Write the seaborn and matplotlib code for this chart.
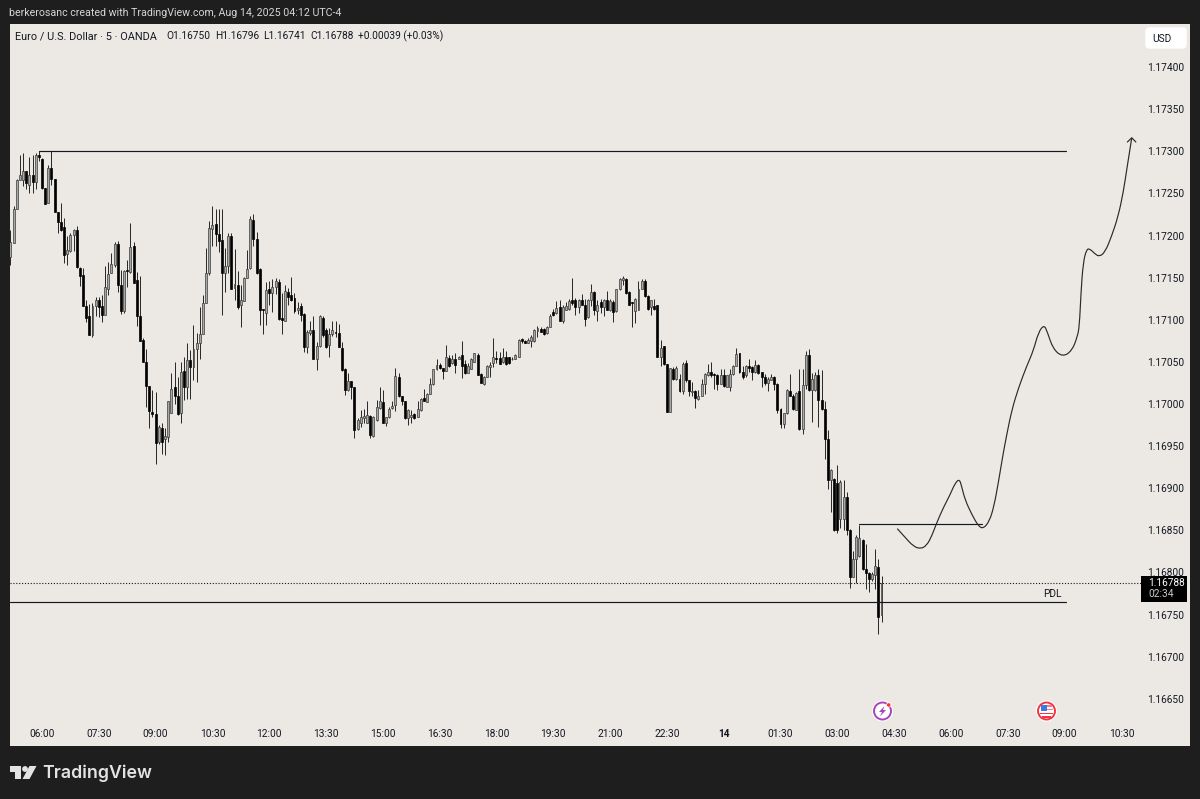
import numpy as np
import pandas as pd
import seaborn as sns
import matplotlib.pyplot as plt
from matplotlib.patches import Rectangle, Circle, Polygon, FancyBboxPatch, PathPatch
from matplotlib.path import Path
from matplotlib.transforms import Affine2D

# EUR/USD 5 min bars as (open, high, low, close) in fifth-decimal points above 1.0
bars_morning = [
    (17175,17207,17165,17192),(17191,17235,17191,17232),(17231,17267,17231,17266),(17266,17295,17266,17272),
    (17266,17298,17259,17276),(17276,17276,17255,17262),(17260,17293,17251,17272),(17272,17296,17250,17264),
    (17264,17298,17255,17295),(17295,17300,17289,17293),(17291,17292,17255,17257),(17257,17257,17238,17238),
    (17239,17284,17239,17280),(17280,17300,17260,17267),(17267,17267,17228,17228),(17228,17228,17203,17216),
    (17216,17239,17205,17207),(17210,17221,17167,17177),(17178,17199,17165,17183),(17182,17203,17181,17201),
    (17201,17208,17182,17207),(17207,17211,17162,17163),(17162,17163,17140,17152),(17153,17162,17116,17116),
    (17116,17124,17097,17102),(17104,17119,17082,17082),(17082,17120,17079,17116),(17116,17127,17104,17124),
    (17124,17127,17103,17115),(17116,17129,17097,17106),(17106,17164,17106,17139),(17137,17168,17129,17154),
    (17155,17179,17155,17166),(17165,17192,17163,17190),(17190,17193,17133,17141),(17141,17159,17107,17110),
    (17110,17159,17108,17158),(17159,17171,17139,17158),(17157,17215,17156,17186),(17187,17192,17144,17144),
    (17147,17157,17093,17104),(17104,17152,17075,17075),(17076,17078,17050,17050),(17050,17065,16997,17021),
    (17021,17021,16971,16992),(16991,17017,16985,16988),(16988,17014,16929,16954),(16955,16975,16953,16973),
    (16972,16977,16941,16955),(16959,16971,16939,16962),(16961,17004,16955,17004),(16989,17037,16989,17018),
    (17020,17050,17000,17010),(17009,17032,16987,16988),(16989,17050,16977,17038),(17039,17056,17005,17020),
    (17020,17072,17006,17052),(17052,17064,17006,17044),(17044,17094,17028,17065),(17065,17084,17026,17073),
    (17073,17115,17054,17083),(17083,17129,17083,17120),(17120,17185,17120,17156),(17155,17217,17153,17209),
    (17208,17235,17187,17213),(17214,17231,17187,17202),(17202,17231,17181,17193),
]
bars_midday = [
    (17195,17231,17106,17155),(17155,17185,17133,17164),(17164,17203,17156,17199),(17199,17203,17137,17137),
    (17138,17184,17124,17142),(17141,17158,17113,17115),(17118,17141,17091,17123),(17122,17151,17122,17150),
    (17149,17183,17149,17160),(17162,17223,17160,17220),(17218,17226,17187,17196),(17196,17204,17154,17155),
    (17160,17162,17094,17112),(17113,17113,17083,17111),(17108,17145,17094,17135),(17137,17146,17118,17132),
    (17132,17148,17109,17139),(17139,17149,17130,17146),(17145,17148,17100,17101),(17102,17132,17083,17100),
    (17099,17141,17098,17134),(17133,17138,17118,17127),(17129,17151,17122,17124),(17126,17132,17108,17110),
    (17111,17121,17107,17114),(17116,17120,17098,17106),(17107,17108,17062,17068),(17068,17088,17061,17086),
    (17084,17099,17082,17088),(17088,17104,17054,17054),(17054,17074,17040,17069),(17069,17106,17068,17104),
    (17102,17104,17079,17082),(17088,17090,17066,17068),(17070,17090,17056,17083),(17083,17099,17081,17088),
    (17086,17099,17079,17084),(17084,17095,17068,17068),(17067,17074,17039,17040),(17041,17043,17011,17017),
    (17017,17037,17015,17027),(17027,17027,17006,17020),(17020,17020,16960,16969),(16970,16983,16969,16981),
    (16978,16993,16973,16985),(16983,16994,16978,16986),(16978,17004,16977,16987),(16986,16987,16960,16963),
    (16962,16986,16961,16985),(16981,17005,16980,16996),(16995,17020,16994,17003),(17002,17017,16978,16978),
    (16978,16985,16974,16984),(16984,16997,16983,16994),(16995,17003,16994,16998),(16999,17043,16992,17033),
    (17032,17037,17008,17009),(17009,17009,16999,17004),(17004,17004,16982,16983),(16983,16994,16975,16993),
    (16984,16993,16978,16987),(16988,16989,16982,16983),(16985,17003,16984,16994),(16993,17007,16992,17006),
    (17007,17018,17003,17003),(17002,17013,17002,17012),(17012,17031,17012,17024),(17024,17041,17023,17041),
    (17041,17053,17040,17046),(17046,17049,17041,17043),(17043,17043,17030,17039),
]
bars_evening = [
    (17039,17070,17039,17056),(17055,17058,17044,17045),(17049,17058,17048,17053),(17054,17060,17037,17046),
    (17054,17057,17053,17056),(17058,17075,17031,17045),(17048,17052,17036,17037),(17037,17049,17037,17045),
    (17042,17055,17041,17054),(17050,17060,17050,17060),(17058,17060,17035,17035),(17036,17037,17025,17025),
    (17024,17033,17023,17032),(17032,17046,17032,17045),(17044,17050,17032,17046),(17049,17078,17044,17056),
    (17055,17063,17049,17053),(17055,17062,17048,17048),(17050,17067,17049,17056),(17056,17063,17046,17048),
    (17056,17056,17048,17049),(17053,17056,17052,17054),(17053,17059,17053,17058),(17056,17077,17056,17076),
    (17077,17078,17072,17075),(17075,17076,17072,17073),(17073,17078,17072,17076),(17075,17082,17068,17080),
    (17075,17089,17074,17088),(17087,17093,17080,17090),(17089,17091,17085,17086),(17089,17090,17082,17083),
    (17084,17092,17083,17091),(17091,17107,17091,17105),(17109,17113,17105,17106),(17108,17122,17107,17114),
    (17115,17123,17098,17098),(17099,17117,17096,17115),(17112,17121,17111,17116),(17113,17125,17112,17122),
    (17123,17149,17117,17120),(17123,17126,17106,17115),(17115,17125,17108,17123),(17123,17131,17117,17118),
    (17118,17125,17093,17101),(17103,17125,17102,17123),(17123,17142,17116,17133),(17133,17134,17106,17112),
    (17110,17123,17098,17118),(17121,17125,17108,17115),(17115,17125,17104,17124),(17123,17134,17111,17112),
    (17111,17125,17110,17122),(17121,17123,17097,17109),(17110,17137,17109,17136),(17136,17150,17135,17148),
    (17147,17152,17141,17149),(17148,17149,17131,17132),(17133,17134,17117,17118),(17121,17121,17091,17120),
    (17110,17126,17096,17125),(17112,17146,17111,17137),(17137,17148,17136,17146),(17146,17148,17127,17128),
    (17128,17129,17112,17113),(17115,17124,17106,17123),(17116,17125,17111,17113),(17117,17117,17056,17056),
]
bars_overnight = [
    (17056,17076,17045,17066),(17069,17069,17046,17047),(17047,17047,16990,16990),(16990,17043,16990,17043),
    (17042,17044,17029,17030),(17030,17045,17029,17043),(17030,17036,17014,17016),(17016,17050,17012,17048),
    (17049,17052,17026,17028),(17028,17028,17010,17016),(17014,17026,17010,17016),(17016,17017,16995,17007),
    (17006,17017,17005,17010),(17010,17030,17009,17024),(17024,17037,17012,17036),(17034,17048,17033,17038),
    (17038,17050,17032,17034),(17036,17037,17018,17035),(17034,17036,17017,17024),(17024,17041,17024,17034),
    (17035,17041,17020,17021),(17020,17035,17020,17034),(17020,17042,17016,17036),(17036,17046,17035,17045),
    (17045,17067,17045,17059),(17060,17061,17037,17038),(17038,17045,17030,17032),(17034,17046,17032,17045),
    (17045,17054,17038,17043),(17044,17045,17028,17038),(17038,17052,17037,17046),(17046,17047,17036,17037),
    (17038,17038,17020,17032),(17032,17036,17022,17025),(17025,17032,17016,17030),(17029,17036,17028,17032),
    (17032,17033,17017,17024),(17024,17025,16989,16993),(16994,16995,16971,16976),(16976,16989,16971,16989),
    (16989,17018,16988,17017),(17016,17036,17009,17010),(17010,17012,16993,16994),(16993,17014,16993,17013),
    (17016,17041,16969,16970),(16970,17042,16964,17023),(17022,17063,17018,17058),(17058,17065,17016,17017),
    (17017,17037,16979,17030),(17017,17038,17016,17034),(17034,17041,16973,17005),(17005,17040,16993,16994),
    (16994,17003,16935,16958),(16958,16969,16899,16910),(16910,16923,16872,16922),(16911,16912,16849,16850),
    (16906,16927,16847,16850),(16864,16910,16853,16907),(16864,16910,16850,16889),(16889,16895,16844,16850),
    (16851,16852,16781,16795),(16795,16826,16795,16816),(16816,16844,16787,16842),(16819,16856,16818,16841),
    (16839,16840,16803,16804),(16804,16834,16780,16799),(16799,16800,16777,16792),(16792,16800,16790,16798),
    (16797,16828,16780,16808),(16807,16816,16727,16747),(16750,16796,16741,16788),
]

first_bar = -10  # bar 0 is the 06:00 tick
x_ticks = list(range(0, 343, 18))
x_labels = ["06:00","07:30","09:00","10:30","12:00","13:30","15:00","16:30","18:00","19:30",
            "21:00","22:30","14","01:30","03:00","04:30","06:00","07:30","09:00","10:30"]
y_ticks = [1.1665,1.1670,1.1675,1.1680,1.1685,1.1690,1.1695,1.1700,1.1705,1.1710,1.1715,1.1720,1.1725,1.1730,1.1735,1.1740]

top_level = 1.17300
pdl_level = 1.16765
break_level = 1.16857

brush_bar = [271.0,273.4,276.1,278.4,280.3,281.9,283.5,285.6,287.7,289.3,290.7,291.4,292.5,294.6,296.7,298.3,300.2,301.6,
             303.0,304.4,305.7,307.3,309.4,312.0,314.1,315.7,317.5,318.5,320.4,323.4,326.3,328.0,328.7,329.2,329.9,331.0,
             332.1,333.7,335.0,336.8,338.9,341.0,342.6,343.9,345.3]
brush_pts = [16852,16842,16831,16828,16832,16843,16859,16877,16892,16906,16911,16902,16886,16869,16855,16852,16861,16878,
             16906,16938,16964,16993,17019,17045,17063,17085,17094,17086,17065,17056,17063,17079,17092,17132,17168,17184,
             17184,17178,17175,17180,17199,17223,17251,17283,17316]
arrow_bar = [343.9,345.3,346.6]
arrow_pts = [17311,17316,17311]

BG = "#ece9e4"
FRAME = "#1e1e1e"
INK = "#131722"
TICK = 7.3

sns.set_theme(style="white", rc={"figure.facecolor": FRAME, "axes.facecolor": BG})
plt.rcParams["font.family"] = ["Roboto", "DejaVu Sans"]

df = pd.DataFrame(bars_morning + bars_midday + bars_evening + bars_overnight,
                  columns=["open", "high", "low", "close"])
df = 1 + df / 100000
df["bar"] = np.arange(len(df)) + first_bar
up = df["close"] >= df["open"]

fig = plt.figure(figsize=(12, 7.99), dpi=100)
ax = fig.add_axes([10 / 1200, 53 / 799, 1180 / 1200, 722 / 799])
# top-left pixel coordinates for the frame furniture
px = Affine2D().scale(1, -1).translate(0, 799)

# candles
ax.vlines(df["bar"], df["low"], df["high"], color="#2b2b2b", lw=0.72, zorder=3)
ax.bar(df["bar"][up], (df["close"] - df["open"])[up], bottom=df["open"][up], width=0.62,
       facecolor="#a8a8a8", edgecolor="#3a3a3a", lw=0.5, zorder=4)
ax.bar(df["bar"][~up], (df["close"] - df["open"])[~up], bottom=df["open"][~up], width=0.62,
       facecolor="black", edgecolor="black", lw=0.5, zorder=4)

# drawn levels
levels = pd.DataFrame({"bar": [-1, 324.5, first_bar, 324.5, 259, 298],
                       "price": [top_level, top_level, pdl_level, pdl_level, break_level, break_level],
                       "name": ["top", "top", "pdl", "pdl", "break", "break"]})
sns.lineplot(data=levels, x="bar", y="price", units="name", estimator=None, color=INK, lw=0.85, ax=ax, zorder=5)
ax.text(323, pdl_level + 0.00010, "PDL", ha="right", va="center", fontsize=TICK, color=INK)

# brush path, rounded through its points, and arrow head
brush_xy = np.column_stack([brush_bar, 1 + np.array(brush_pts) / 100000])
mids = (brush_xy[1:-1] + brush_xy[2:]) / 2
verts = [brush_xy[0]]
codes = [Path.MOVETO]
for ctrl, end in zip(brush_xy[1:-1], mids):
    verts += [ctrl, end]
    codes += [Path.CURVE3, Path.CURVE3]
verts.append(brush_xy[-1])
codes.append(Path.LINETO)
ax.add_patch(PathPatch(Path(verts, codes), facecolor="none", edgecolor="#2a2a2a", lw=0.85, zorder=5))
sns.lineplot(x=arrow_bar, y=1 + np.array(arrow_pts) / 100000, sort=False, estimator=None, color="#2a2a2a", lw=0.85, ax=ax, zorder=5)

# last price
last_close = df["close"].iloc[-1]
ax.plot([first_bar, 348.6], [last_close, last_close], color=INK, lw=0.8, ls=(0, (1, 1.6)), zorder=2)

ax.set_xlim(-10.14, 363.75)
ax.set_ylim(1.16594, 1.174511)
ax.set_xticks(x_ticks)
ax.set_xticklabels(x_labels, fontsize=TICK, color=INK, va="top")
ax.set_yticks(y_ticks)
ax.set_yticklabels([f"{v:.5f}" for v in y_ticks], fontsize=TICK, color=INK, ha="right", va="center_baseline")
ax.tick_params(axis="x", length=0, pad=-12.5)
ax.tick_params(axis="y", length=0, pad=-4.5, left=False, labelleft=False, right=False, labelright=True)
for t in ax.get_xticklabels():
    if t.get_text() == "14":
        t.set_fontweight("bold")
ax.set_xlabel("")
ax.set_ylabel("")
ax.grid(False)
for s in ax.spines.values():
    s.set_visible(False)

yax = ax.get_yaxis_transform()
ax.add_patch(Rectangle((0.9585, last_close - 0.00023), 0.039, 0.00031, transform=yax, facecolor="black", edgecolor="none", zorder=6))
ax.text(0.9644, last_close - 0.00001, f"{last_close:.5f}", transform=yax, color="white", fontsize=TICK, ha="left", va="center", zorder=7)
ax.text(0.9644, last_close - 0.00014, "02:34", transform=yax, color="#c9c9c9", fontsize=TICK, ha="left", va="center", zorder=7)

# header, legend, USD box
fig.text(9, 13, "berkerosanc created with TradingView.com, Aug 14, 2025 04:12 UTC-4", transform=px,
         color="#d6d6d6", fontsize=7.7, va="center")
fig.text(15, 36, "Euro / U.S. Dollar · 5 · OANDA", transform=px, color=INK, fontsize=7.8, va="center")
for x_pos, piece in [(166, "O1.16750"), (215, "H1.16796"), (263, "L1.16741"), (310, "C1.16788"), (358, "+0.00039 (+0.03%)")]:
    fig.text(x_pos, 36, piece, transform=px, color=INK, fontsize=TICK, va="center")
fig.add_artist(FancyBboxPatch((1146, 28), 40, 20, boxstyle="round,pad=0,rounding_size=3", transform=px,
                              facecolor="white", edgecolor="white", lw=1))
fig.text(1161.5, 38.5, "USD", transform=px, color=INK, fontsize=TICK, ha="center", va="center")

# economic event icons
fig.add_artist(Circle((882.5, 711), 10.5, transform=px, facecolor="white", edgecolor="none"))
fig.add_artist(Circle((882.5, 711), 8.5, transform=px, facecolor="white", edgecolor="#a845bd", lw=1.4))
fig.add_artist(Polygon([(884.5, 706), (879, 712), (882, 712), (880, 716.5), (886, 710), (883, 710)], transform=px, facecolor="#a845bd", edgecolor="none"))
fig.add_artist(Circle((888.7, 705), 2.2, transform=px, facecolor="#f23645", edgecolor="white", lw=0.5))
fig.add_artist(Circle((1046.5, 711), 10.5, transform=px, facecolor="white", edgecolor="none"))
fig.add_artist(Circle((1046.5, 711), 8.5, transform=px, facecolor="white", edgecolor="#f23645", lw=1.4))
fig.add_artist(Rectangle((1040.5, 704.5), 6.5, 6, transform=px, facecolor="#3d7be0", edgecolor="none"))
fig.add_artist(Rectangle((1047, 705), 5, 1.6, transform=px, facecolor="#f47c85", edgecolor="none"))
fig.add_artist(Rectangle((1047, 708.5), 6, 1.6, transform=px, facecolor="#f47c85", edgecolor="none"))
fig.add_artist(Rectangle((1040, 712.5), 13, 1.8, transform=px, facecolor="#f23645", edgecolor="none"))
fig.add_artist(Rectangle((1042, 716), 9, 1.6, transform=px, facecolor="#f23645", edgecolor="none"))

# TradingView logo
LOGO = "#e3e3e3"
fig.add_artist(Polygon([(10, 766), (21, 766), (21, 779), (14.5, 779), (14.5, 772), (10, 772)], transform=px, facecolor=LOGO, edgecolor="none"))
fig.add_artist(Circle((25, 769), 2.9, transform=px, facecolor=LOGO, edgecolor="none"))
fig.add_artist(Polygon([(29.5, 766), (36.5, 766), (29.5, 779), (22.5, 779)], transform=px, facecolor=LOGO, edgecolor="none"))
fig.text(42.5, 773, "TradingView", transform=px, color=LOGO, fontsize=12.8, fontweight="semibold", va="center", family=["Inter", "DejaVu Sans"])

fig.savefig("out.png", dpi=100, facecolor=FRAME)
